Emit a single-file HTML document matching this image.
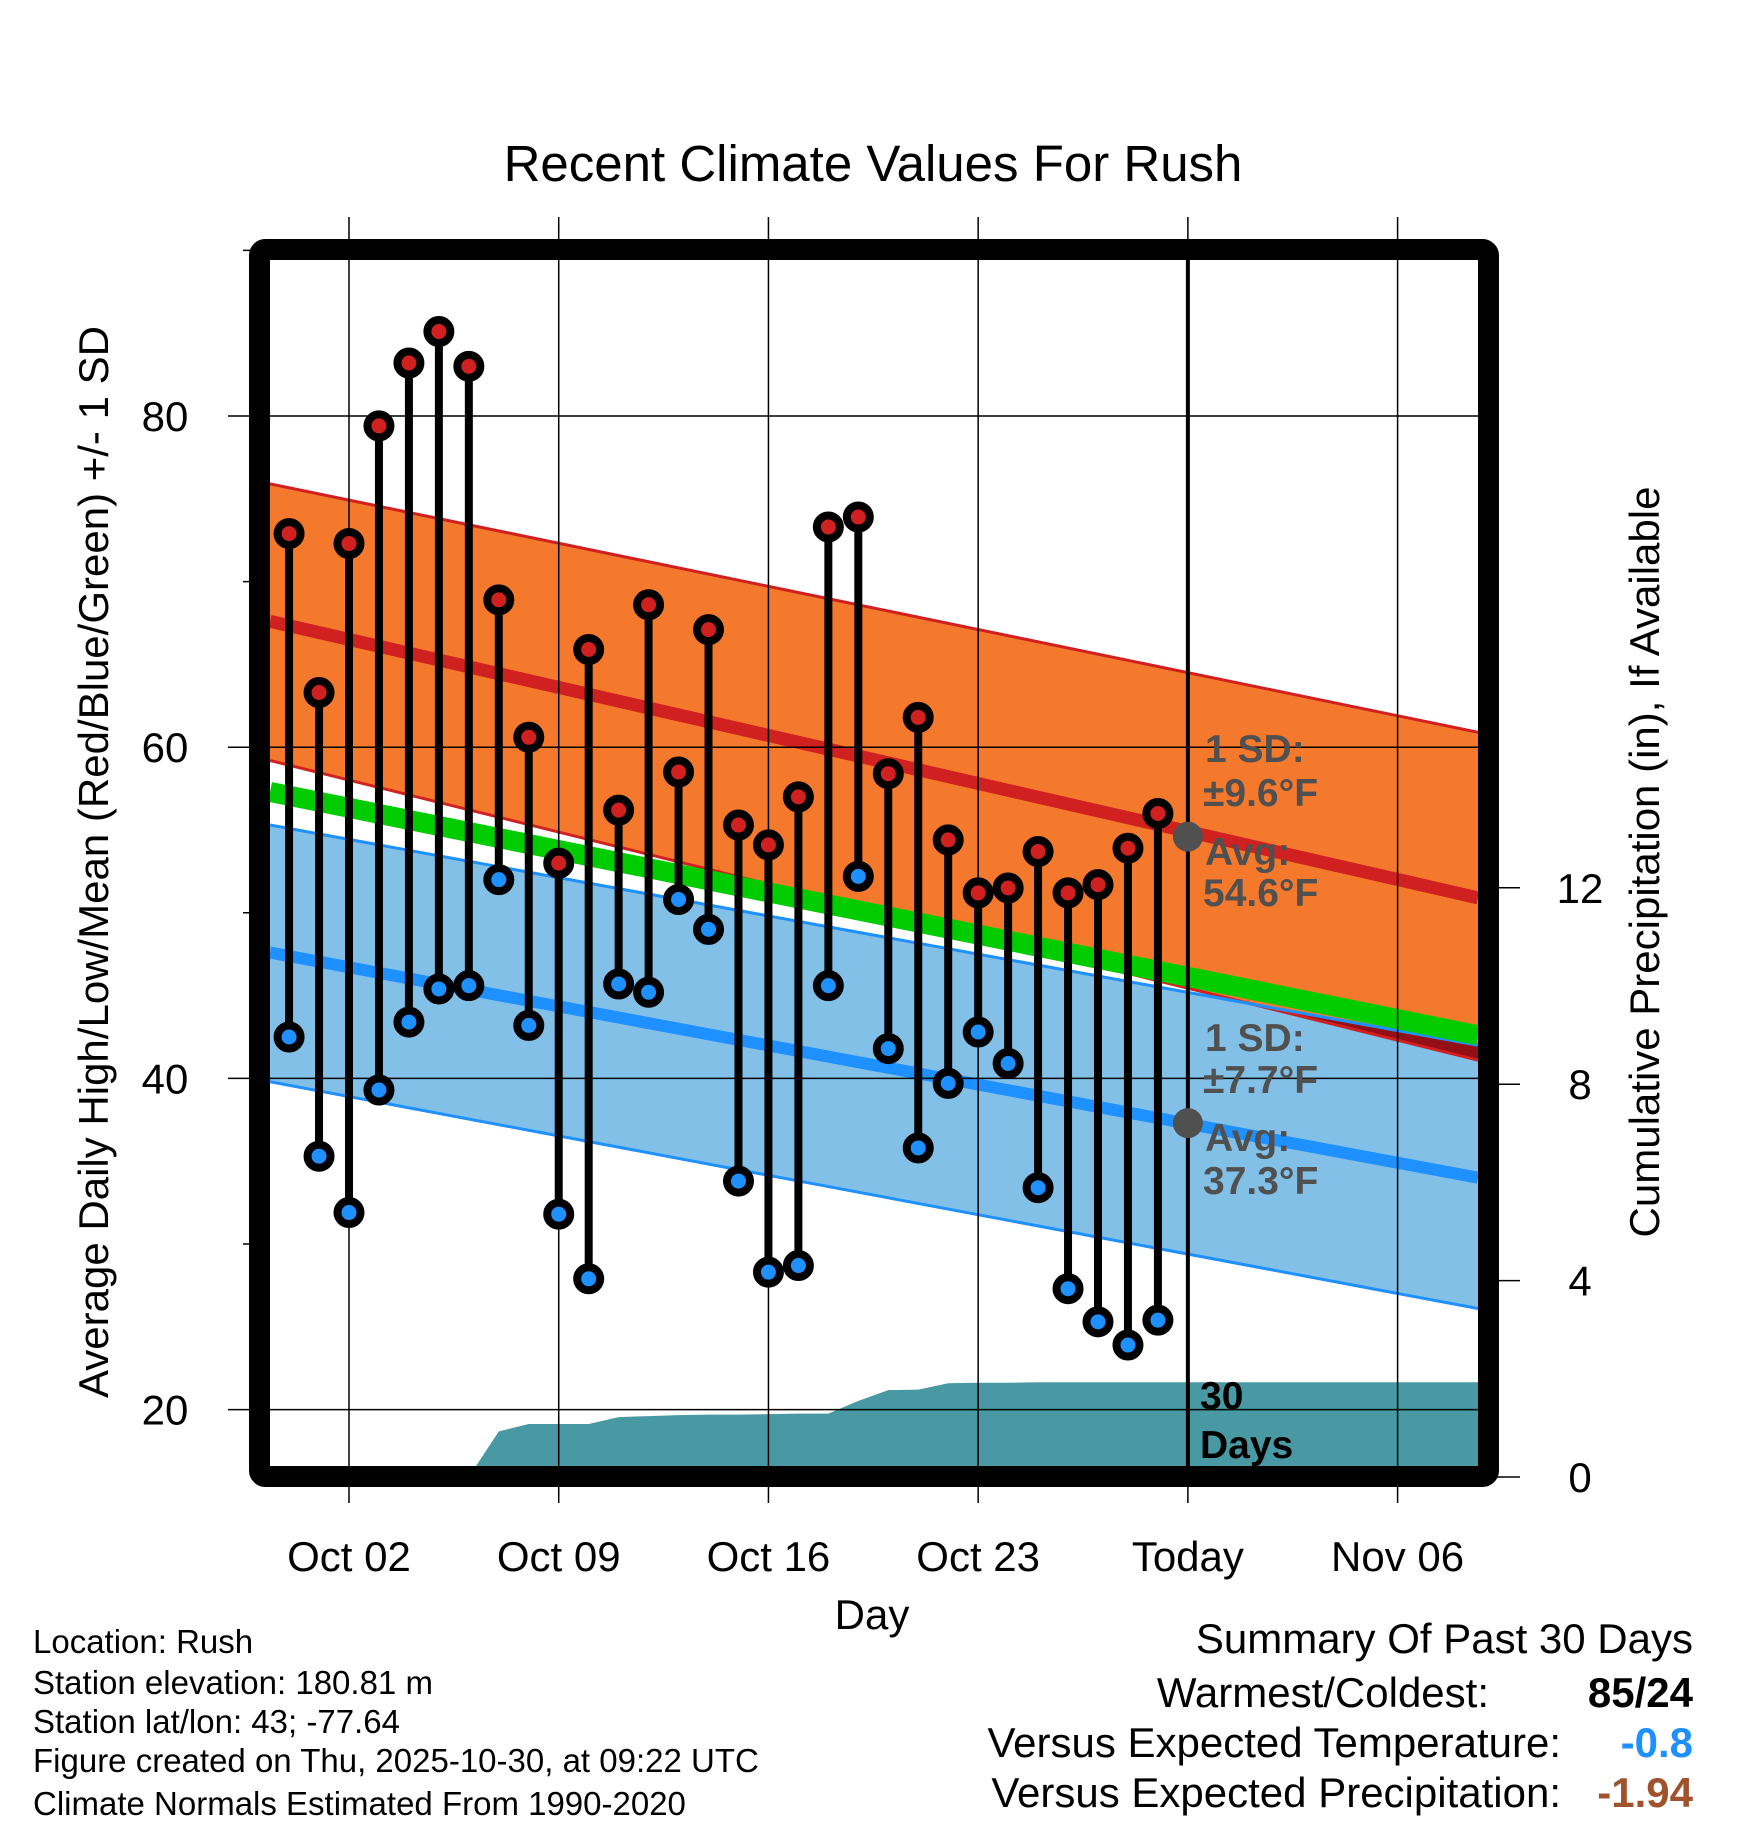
<!DOCTYPE html>
<html><head><meta charset="utf-8"><style>
html,body{margin:0;padding:0;background:#fff;}
svg{display:block;font-family:"Liberation Sans",sans-serif;}
</style></head><body>
<svg id="chart" width="1748" height="1828" viewBox="0 0 1748 1828" xmlns="http://www.w3.org/2000/svg">
<defs>
<clipPath id="plotclip"><rect x="270" y="260" width="1208" height="1206"/></clipPath>
<clipPath id="orangeclip"><polygon id="orangeclipPoly"/></clipPath>
</defs>
<g id="layer"></g>
</svg>
<script>
// ---- data ----
const days = ["Sep 30","Oct 01","Oct 02","Oct 03","Oct 04","Oct 05","Oct 06","Oct 07","Oct 08","Oct 09","Oct 10","Oct 11","Oct 12","Oct 13","Oct 14","Oct 15","Oct 16","Oct 17","Oct 18","Oct 19","Oct 20","Oct 21","Oct 22","Oct 23","Oct 24","Oct 25","Oct 26","Oct 27","Oct 28","Oct 29"];
const dayIndex = [-2,-1,0,1,2,3,4,5,6,7,8,9,10,11,12,13,14,15,16,17,18,19,20,21,22,23,24,25,26,27];
const highs = [72.9,63.3,72.3,79.4,83.2,85.1,83.0,68.9,60.6,53.0,65.9,56.2,68.6,58.5,67.1,55.3,54.1,57.0,73.3,73.9,58.4,61.8,54.4,51.2,51.5,53.7,51.2,51.7,53.9,56.0];
const lows = [42.5,35.3,31.9,39.3,43.4,45.4,45.6,52.0,43.2,31.8,27.9,45.7,45.2,50.8,49.0,33.8,28.3,28.7,45.6,52.2,41.8,35.8,39.7,42.8,40.9,33.4,27.3,25.3,23.9,25.4];
const precip = [0,0,0,0,0,0,0,0.93,1.08,1.08,1.08,1.22,1.24,1.26,1.27,1.27,1.28,1.29,1.29,1.55,1.77,1.78,1.91,1.92,1.92,1.93,1.93,1.93,1.93,1.93];
const xTickDays = [0,7,14,21,28,35];
const xTickLabels = ["Oct 02","Oct 09","Oct 16","Oct 23","Today","Nov 06"];
const yTicks = [20,40,60,80];
const yMinorTicks = [30,50,70,90];
const precipTicks = [0,4,8,12];
// normals (value at left edge, right edge of plot)
const highMean = [67.6,50.9];
const highUpper = [75.9,60.9];
const highLower = [59.2,41.1];
const meanLine = [57.3,42.6];
const lowMean = [47.6,34.0];
const lowUpper = [55.3,42.0];
const lowLower = [39.8,26.1];
const todayHighAvg = 54.6, todayLowAvg = 37.3;

// ---- axes ----
const L=270,R=1478,T=260,B=1466;
const x = d => 349 + d*29.96;
const y = v => 416 + (80-v)*16.56;
const yp = p => 1477 - p*49.1;

const NS="http://www.w3.org/2000/svg";
const layer=document.getElementById('layer');
function mk(tag,attrs,parent){const e=document.createElementNS(NS,tag);for(const k in attrs)e.setAttribute(k,attrs[k]);(parent||layer).appendChild(e);return e;}
const plot=mk('g',{'clip-path':'url(#plotclip)'});



function band(a,b){return `${L},${y(a[0])} ${R},${y(a[1])} ${R},${y(b[1])} ${L},${y(b[0])}`;}
let e=mk('polygon',{points:band(lowUpper,lowLower),fill:'#82c0e8'},plot);


e=mk('polygon',{points:band(highUpper,highLower),fill:'#f5792d'},plot);


document.getElementById('orangeclipPoly').setAttribute('points',band(highUpper,highLower));
e=mk('polygon',{points:band(lowUpper,lowLower),fill:'#930e15','clip-path':'url(#orangeclip)'},plot);


function line(a,color,w,name){const l=mk('line',{x1:L,y1:y(a[0]),x2:R,y2:y(a[1]),stroke:color,'stroke-width':w},plot);

}
line(highUpper,'#d02020',3,'high-upper-line');
line(highLower,'#d02020',3,'high-lower-line');
line(lowUpper,'#1e90ff',3,'low-upper-line');
line(lowLower,'#1e90ff',3,'low-lower-line');
line(meanLine,'#00cc00',20,'mean-line');
line(highMean,'#d02020',13,'high-mean-line');
line(lowMean,'#1e90ff',12,'low-mean-line');

let pts=`${x(dayIndex[0])},${yp(0)} `;
dayIndex.forEach((d,i)=>{pts+=`${x(d)},${yp(precip[i])} `;});
pts+=`${R},${yp(precip[precip.length-1])} ${R},${yp(0)}`;
e=mk('polygon',{points:pts,fill:'#4899a3'},plot);



yTicks.forEach(v=>{const g=mk('line',{x1:228,y1:y(v),x2:R,y2:y(v),stroke:'#000','stroke-width':1.5});


const t=mk('text',{x:165,y:y(v)+15,'font-size':42,'text-anchor':'middle'});t.textContent=v;

});
yMinorTicks.forEach(v=>{const g=mk('line',{x1:243,y1:y(v),x2:262,y2:y(v),stroke:'#000','stroke-width':1.5});

});
xTickDays.forEach((d,i)=>{const g=mk('line',{x1:x(d),y1:217,x2:x(d),y2:1503,stroke:'#000','stroke-width':1.5});


const t=mk('text',{x:x(d),y:1571,'font-size':42,'text-anchor':'middle'});t.textContent=xTickLabels[i];

});
precipTicks.forEach(p=>{const g=mk('line',{x1:1480,y1:yp(p),x2:1520,y2:yp(p),stroke:'#000','stroke-width':1.5});


const t=mk('text',{x:1580,y:yp(p)+15,'font-size':42,'text-anchor':'middle'});t.textContent=p;

});

e=mk('line',{x1:x(28),y1:T,x2:x(28),y2:B,stroke:'#000','stroke-width':4});



dayIndex.forEach((d,i)=>{
 const s=mk('line',{x1:x(d),y1:y(highs[i]),x2:x(d),y2:y(lows[i]),stroke:'#000','stroke-width':8});
 
 
});
dayIndex.forEach((d,i)=>{
 const h=mk('circle',{cx:x(d),cy:y(highs[i]),r:11.5,fill:'#d02020',stroke:'#000','stroke-width':8});
 
 
 const l=mk('circle',{cx:x(d),cy:y(lows[i]),r:11.5,fill:'#1e90ff',stroke:'#000','stroke-width':8});
 
 
});
e=mk('circle',{cx:x(28),cy:y(todayHighAvg),r:15,fill:'#505050'});


e=mk('circle',{cx:x(28),cy:y(todayLowAvg),r:15,fill:'#505050'});



function txt(s,xx,yy,opt,name){const t=mk('text',Object.assign({x:xx,y:yy},opt));t.textContent=s;

return t;}
const ann={'font-size':39,'font-weight':'bold',fill:'#505050'};
txt('1 SD:',1205,762,ann,'high-sd-label');
txt('±9.6°F',1203,806,ann,'high-sd-value');
txt('Avg:',1205,865,ann,'high-avg-label');
txt('54.6°F',1203,906,ann,'high-avg-value');
txt('1 SD:',1205,1051,ann,'low-sd-label');
txt('±7.7°F',1203,1093,ann,'low-sd-value');
txt('Avg:',1205,1151,ann,'low-avg-label');
txt('37.3°F',1203,1194,ann,'low-avg-value');
txt('30',1200,1409,{'font-size':39,'font-weight':'bold'},'precip-days-label');
txt('Days',1200,1458,{'font-size':39,'font-weight':'bold'},'precip-days-label-2');

e=mk('rect',{x:259.5,y:249.5,width:1229,height:1227,fill:'none',stroke:'#000','stroke-width':21,rx:6});



txt('Recent Climate Values For Rush',873,181,{'font-size':51,'text-anchor':'middle'},'chart-title');
txt('Day',872,1629,{'font-size':42,'text-anchor':'middle'},'x-axis-title');
txt('Average Daily High/Low/Mean (Red/Blue/Green) +/- 1 SD',0,0,{'font-size':42,'text-anchor':'middle',transform:'translate(108,862) rotate(-90)'},'y-axis-title');
txt('Cumulative Precipitation (in), If Available',0,0,{'font-size':42,'text-anchor':'middle',transform:'translate(1659,862) rotate(-90)'},'y2-axis-title');

const foot=['Location: Rush','Station elevation: 180.81 m','Station lat/lon: 43; -77.64','Figure created on Thu, 2025-10-30, at 09:22 UTC','Climate Normals Estimated From 1990-2020'];
const footY=[1653,1694,1733,1772,1815];
foot.forEach((s,i)=>txt(s,33,footY[i],{'font-size':33},'footnote-line'));

txt('Summary Of Past 30 Days',1693,1653,{'font-size':42,'text-anchor':'end'},'summary-title');
txt('Warmest/Coldest:',1489,1707,{'font-size':42,'text-anchor':'end'},'warmest-coldest-label');
txt('85/24',1693,1707,{'font-size':42,'text-anchor':'end','font-weight':'bold'},'warmest-coldest-value');
txt('Versus Expected Temperature:',1561,1757,{'font-size':42,'text-anchor':'end'},'temp-departure-label');
txt('-0.8',1693,1757,{'font-size':42,'text-anchor':'end','font-weight':'bold',fill:'#1e90ff'},'temp-departure-value');
txt('Versus Expected Precipitation:',1561,1807,{'font-size':42,'text-anchor':'end'},'precip-departure-label');
txt('-1.94',1693,1807,{'font-size':42,'text-anchor':'end','font-weight':'bold',fill:'#a0522d'},'precip-departure-value');
</script>
</body></html>
